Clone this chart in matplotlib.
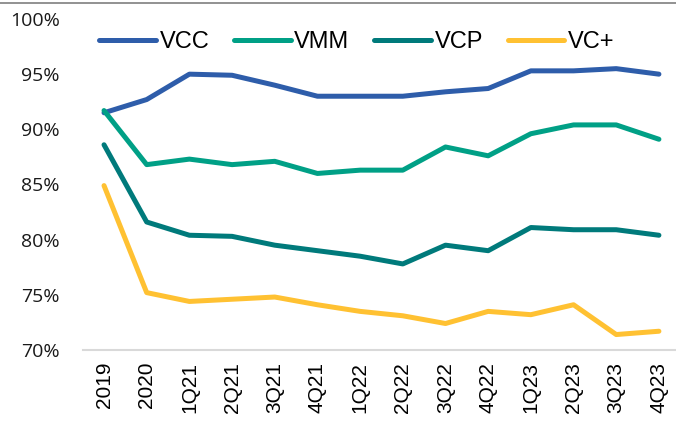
import matplotlib
matplotlib.use("Agg")
import matplotlib.pyplot as plt
from matplotlib.lines import Line2D
from matplotlib.ticker import FuncFormatter

# ---------------- data ----------------
periods = ["2019", "2020", "1Q21", "2Q21", "3Q21", "4Q21", "1Q22",
           "2Q22", "3Q22", "4Q22", "1Q23", "2Q23", "3Q23", "4Q23"]
vcc = [91.5, 92.7, 95.0, 94.9, 94.0, 93.0, 93.0, 93.0, 93.4, 93.7, 95.3, 95.3, 95.5, 95.0]
vmm = [91.7, 86.8, 87.3, 86.8, 87.1, 86.0, 86.3, 86.3, 88.4, 87.6, 89.6, 90.4, 90.4, 89.1]
vcp = [88.6, 81.6, 80.4, 80.3, 79.5, 79.0, 78.5, 77.8, 79.5, 79.0, 81.1, 80.9, 80.9, 80.4]
vcplus = [84.9, 75.2, 74.4, 74.6, 74.8, 74.1, 73.5, 73.1, 72.4, 73.5, 73.2, 74.1, 71.4, 71.7]

series = [("VCC", vcc, "#2E5DAA"),
          ("VMM", vmm, "#00A086"),
          ("VCP", vcp, "#007A7B"),
          ("VC+", vcplus, "#FFC132")]

# ---------------- plot ----------------
fig = plt.figure(figsize=(6.76, 4.23), dpi=100)
ax = fig.add_axes([0.1223, 0.1726, 0.884, 0.7825])

x = range(len(periods))
for name, vals, col in series:
    ax.plot(x, vals, color=col, lw=3.6, solid_capstyle="round",
            solid_joinstyle="round", label=name)

ax.set_xlim(-0.5, len(periods) - 0.5)
ax.set_ylim(70, 100)
ax.set_yticks(range(70, 101, 5))
ax.yaxis.set_major_formatter(FuncFormatter(lambda v, p: f"{v:.0f}%"))
ax.set_xticks(list(x))
ax.set_xticklabels(periods, rotation=90, fontsize=15, family="Liberation Sans",
                   va="top")

for lab in ax.get_yticklabels():
    lab.set_fontfamily("Open Sans")
    lab.set_fontsize(14)
    lab.set_color("#1A1A1A")

ax.tick_params(axis="y", length=0, pad=16.5)
ax.tick_params(axis="x", length=0, pad=8.5)

for s in ["top", "right", "left"]:
    ax.spines[s].set_visible(False)
ax.spines["bottom"].set_color("#D9D9D9")
ax.spines["bottom"].set_linewidth(1.5)

leg = ax.legend(loc="center left", bbox_to_anchor=(0.012, 0.93), ncol=4,
                frameon=False, handlelength=2.4, handletextpad=0.15,
                columnspacing=1.05, borderaxespad=0,
                prop={"family": "Liberation Sans", "size": 17})

# thin gray rule at the top of the image
fig.add_artist(Line2D([0, 1], [0.993, 0.993], transform=fig.transFigure,
                      color="#7F7F7F", lw=1.2))

fig.savefig("out.png", dpi=100)
